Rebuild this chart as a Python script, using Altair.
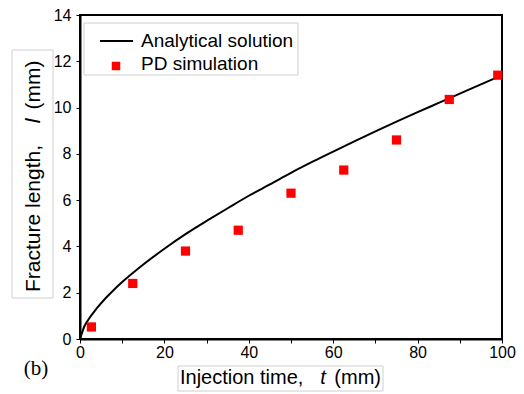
import altair as alt
import pandas as pd

# Analytical solution
curve_t = [0, 1, 2, 4, 6, 8, 10, 12.5, 15, 20, 25, 30, 35, 40, 45, 50, 55, 60, 65, 70, 75, 80, 85, 90, 95, 100]
curve_l = [0, 0.53, 0.84, 1.33, 1.75, 2.12, 2.46, 2.85, 3.22, 3.9, 4.53, 5.1, 5.65, 6.19, 6.68, 7.18, 7.65, 8.1, 8.54, 8.97, 9.39, 9.8, 10.2, 10.6, 11.0, 11.4]

# PD simulation points
sim_t = [2.7, 12.5, 25, 37.5, 50, 62.5, 75, 87.5, 99]
sim_l = [0.52, 2.4, 3.8, 4.7, 6.3, 7.3, 8.6, 10.35, 11.4]

x_ticks = list(range(0, 101, 10))
y_ticks = list(range(0, 15))

legend_labels = ["Analytical solution", "PD simulation"]

FONT = "Liberation Sans"

df_curve = pd.DataFrame({"t": curve_t, "l": curve_l})
df_sim = pd.DataFrame({"t": sim_t, "l": sim_l})
one = pd.DataFrame({"a": [1]})

xenc = alt.X("t:Q", title="",
             scale=alt.Scale(domain=[0, 100], nice=False, zero=False),
             axis=alt.Axis(values=x_ticks, labelFlush=False, labelOverlap=False,
                           labelExpr="datum.value % 20 == 0 ? datum.label : ''",
                           grid=False, labelPadding=1))
yenc = alt.Y("l:Q", title="",
             scale=alt.Scale(domain=[0, 14], nice=False),
             axis=alt.Axis(values=y_ticks, labelOverlap=False, labelFlush=False,
                           labelExpr="datum.value % 2 == 0 ? datum.label : ''",
                           grid=False, labelPadding=5))

line = alt.Chart(df_curve).mark_line(color="black", strokeWidth=2, interpolate="monotone").encode(x=xenc, y=yenc)
pts = alt.Chart(df_sim).mark_square(size=85, color="#ff0000", opacity=1).encode(x="t:Q", y="l:Q")


def txt(text, x, y, size=20, align="left", angle=0, style="normal", font=FONT):
    kw = dict(text=text, fontSize=size, align=align, baseline="middle", font=font,
              fontStyle=style, color="black")
    if angle:
        kw["angle"] = angle
    return alt.Chart(one).mark_text(**kw).encode(x=alt.value(x), y=alt.value(y))


def box(x1, x2, y1, y2):
    return alt.Chart(one).mark_rect(fill="white", stroke="#cfcfcf", strokeWidth=1).encode(
        x=alt.value(x1), x2=alt.value(x2), y=alt.value(y1), y2=alt.value(y2))


TOP = 15  # page y of plot top

# legend
leg_box = box(4, 218, 23 - TOP, 75 - TOP)
leg_line = alt.Chart(one).mark_rule(color="black", strokeWidth=2).encode(
    x=alt.value(20), x2=alt.value(53), y=alt.value(41 - TOP))
leg_sq = alt.Chart(one).mark_square(size=72, color="#ff0000", opacity=1).encode(
    x=alt.value(36), y=alt.value(66 - TOP))
leg_t1 = txt(legend_labels[0], 61, 41 - TOP, size=19)
leg_t2 = txt(legend_labels[1], 61, 64 - TOP, size=19)

# y title
ybox = box(-68, -27, 50 - TOP, 298 - TOP)
yt1 = txt("Fracture length,", -46, 292 - TOP, size=21, angle=270)
yt2 = txt("l", -46, 121 - TOP, size=21, align="center", angle=270, style="italic")
yt3 = txt("(mm)", -46, 85 - TOP, size=21, align="center", angle=270)

# x title
xbox = box(98, 303, 366 - TOP, 391 - TOP)
xt1 = txt("Injection time,", 100, 378 - TOP, size=20)
xt2 = txt("t", 243, 378 - TOP, size=20, align="center", style="italic")
xt3 = txt("(mm)", 301, 378 - TOP, size=20, align="right")

blabel = txt("(b)", -44, 369 - TOP, size=21, align="center", font="Liberation Serif")

chart = alt.layer(
    line, pts, leg_box, leg_line, leg_sq, leg_t1, leg_t2,
    ybox, yt1, yt2, yt3, xbox, xt1, xt2, xt3, blabel
).properties(
    width=422, height=339 - TOP,
    autosize=alt.AutoSizeParams(type="none"),
    padding={"left": 72, "top": TOP - 8, "right": 14, "bottom": 54},
).configure_view(
    stroke="black", strokeWidth=2
).configure_axis(
    domainColor="black", domainWidth=2, tickColor="black", tickSize=4, tickWidth=1,
    labelFont=FONT, labelFontSize=16, labelColor="black"
)

chart.save("out.html", embed_options={"renderer": "svg", "actions": False})
